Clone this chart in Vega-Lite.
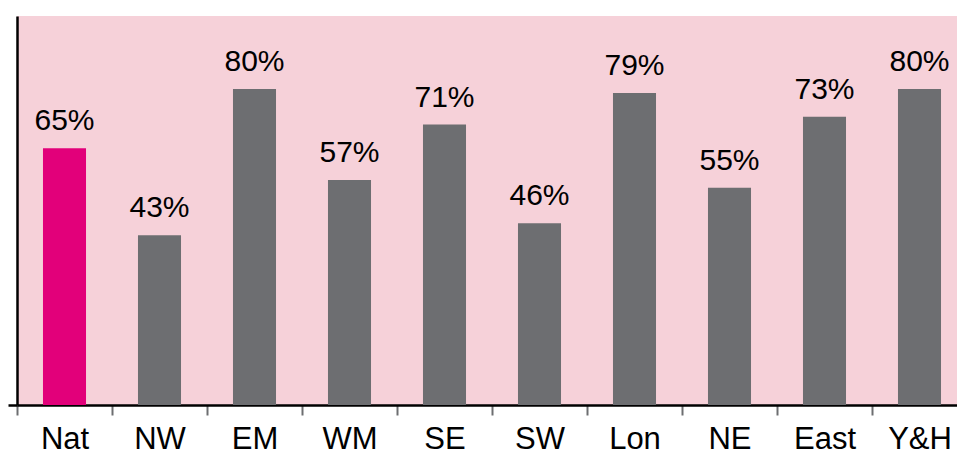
{
  "$schema": "https://vega.github.io/schema/vega-lite/v6.json",
  "autosize": {"type": "none"},
  "width": 940,
  "height": 389,
  "padding": {"left": 17, "top": 16, "right": 0, "bottom": 51},
  "background": "white",
  "config": {
    "view": {"fill": "#F6D1D9", "stroke": null},
    "font": "Liberation Sans"
  },
  "data": {
    "values": [
      {"region": "Nat", "share": 0.65, "group": "national"},
      {"region": "NW", "share": 0.43, "group": "region"},
      {"region": "EM", "share": 0.80, "group": "region"},
      {"region": "WM", "share": 0.57, "group": "region"},
      {"region": "SE", "share": 0.71, "group": "region"},
      {"region": "SW", "share": 0.46, "group": "region"},
      {"region": "Lon", "share": 0.79, "group": "region"},
      {"region": "NE", "share": 0.55, "group": "region"},
      {"region": "East", "share": 0.73, "group": "region"},
      {"region": "Y&H", "share": 0.80, "group": "region"}
    ]
  },
  "encoding": {
    "x": {
      "field": "region",
      "type": "nominal",
      "sort": null,
      "scale": {"range": [0, 950], "paddingInner": 0, "paddingOuter": 0},
      "axis": {
        "title": null,
        "labelAngle": 0,
        "labelFontSize": 31,
        "labelColor": "black",
        "labelBaseline": "alphabetic",
        "labelPadding": 33,
        "tickBand": "extent",
        "tickColor": "#6D6E71",
        "tickWidth": 2,
        "tickSize": 10,
        "domainColor": "black",
        "domainWidth": 2.5,
        "grid": false
      }
    },
    "y": {
      "field": "share",
      "type": "quantitative",
      "scale": {"domain": [0, 0.985], "nice": false},
      "axis": {
        "title": null,
        "labels": false,
        "values": [0],
        "tickSize": 9,
        "tickColor": "black",
        "tickWidth": 2.5,
        "domainColor": "black",
        "domainWidth": 2.5,
        "grid": false
      }
    }
  },
  "layer": [
    {
      "mark": {"type": "bar", "width": {"band": 0.453}},
      "encoding": {
        "color": {
          "field": "group",
          "type": "nominal",
          "scale": {"domain": ["national", "region"], "range": ["#E2007A", "#6D6E71"]},
          "legend": null
        }
      }
    },
    {
      "mark": {"type": "text", "baseline": "alphabetic", "dy": -18, "fontSize": 30, "color": "black"},
      "encoding": {
        "text": {"field": "share", "type": "quantitative", "format": ".0%"}
      }
    }
  ]
}
